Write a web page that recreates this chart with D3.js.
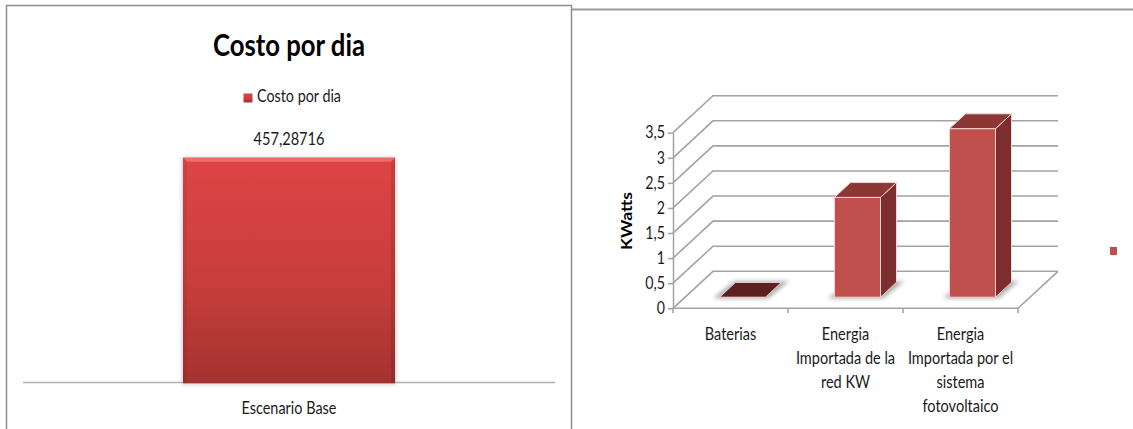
<!DOCTYPE html>
<html>
<head>
<meta charset="utf-8">
<script src="https://cdn.jsdelivr.net/npm/d3@7"></script>
<style>
  body { margin: 0; background: #fff; }
  svg { display: block; }
  text { font-family: Lato, "Open Sans", "DejaVu Sans", sans-serif; fill: #1a1a1a; }
</style>
</head>
<body>
<svg id="chart" width="1133" height="429"></svg>
<script>
// ---- Costo por dia ----
const costTitle = "Costo por dia";
const costSeriesName = "Costo por dia";
const costCategories = ["Escenario Base"];
const costValues = [457.28716];
const costValueLabels = ["457,28716"];

// ---- Energía (kW) ----
const energyAxisTitle = "KWatts";
const energyCategories = [
  ["Baterias"],
  ["Energia", "Importada de la", "red KW"],
  ["Energia", "Importada por el", "sistema", "fotovoltaico"]
];
const energyValues = [0, 1.99, 3.36];
const energyTicks = [0, 0.5, 1, 1.5, 2, 2.5, 3, 3.5];
const energyTickLabels = ["0", "0,5", "1", "1,5", "2", "2,5", "3", "3,5"];

const svg = d3.select("#chart");
const defs = svg.append("defs");

// narrow the glyphs a little, like a condensed UI face
function condense(sel, k) {
  sel.each(function () {
    const len = this.getComputedTextLength();
    d3.select(this).attr("textLength", (len * k).toFixed(1)).attr("lengthAdjust", "spacingAndGlyphs");
  });
}

const grad = defs.append("linearGradient").attr("id", "costGrad")
  .attr("x1", 0).attr("y1", 0).attr("x2", 0).attr("y2", 1);
grad.append("stop").attr("offset", "0%").attr("stop-color", "#dd4544");
grad.append("stop").attr("offset", "55%").attr("stop-color", "#c83e3c");
grad.append("stop").attr("offset", "100%").attr("stop-color", "#a43230");

defs.append("filter").attr("id", "soft").attr("x", "-20%").attr("y", "-50%")
  .attr("width", "140%").attr("height", "200%")
  .append("feGaussianBlur").attr("stdDeviation", 2.2);

// panel frames
svg.append("rect").attr("x", 6.5).attr("y", 5.5).attr("width", 565).attr("height", 440)
  .attr("fill", "none").attr("stroke", "#8e8e8e").attr("stroke-width", 1.5);
svg.append("line").attr("x1", 572).attr("x2", 1133).attr("y1", 9.5).attr("y2", 9.5)
  .attr("stroke", "#9c9c9c").attr("stroke-width", 2);

// ================= left chart =================
const left = svg.append("g");
const xc = d3.scaleBand().domain(costCategories).range([23, 555]).padding(0.43);
const yc = d3.scaleLinear().domain([0, 500]).range([382.5, 136.7]);

left.append("text").attr("x", 289).attr("y", 55.7).attr("text-anchor", "middle")
  .attr("font-size", 31).attr("font-weight", "bold").attr("textLength", 152)
  .attr("lengthAdjust", "spacingAndGlyphs").style("fill", "#000").text(costTitle);

left.append("rect").attr("x", 243.5).attr("y", 93.5).attr("width", 9).attr("height", 9)
  .attr("fill", "url(#costGrad)");
left.append("text").attr("x", 257).attr("y", 102.3).attr("font-size", 16.5)
  .attr("textLength", 84).attr("lengthAdjust", "spacingAndGlyphs").text(costSeriesName);

left.append("line").attr("x1", 23).attr("x2", 555).attr("y1", yc(0)).attr("y2", yc(0))
  .attr("stroke", "#b0b0b0").attr("stroke-width", 1.5);

costCategories.forEach((c, i) => {
  const x0 = xc(c), w = xc.bandwidth(), yt = yc(costValues[i]), yb = yc(0) + 0.8;
  left.append("rect").attr("x", x0 - 1).attr("y", yt).attr("width", w + 2).attr("height", yb - yt + 1)
    .attr("fill", "#9a9a9a").attr("opacity", 0.5).attr("filter", "url(#soft)");
  left.append("rect").attr("x", x0).attr("y", yt).attr("width", w).attr("height", yb - yt)
    .attr("fill", "url(#costGrad)");
  const b = 4;
  left.append("path").attr("d", `M${x0},${yt}L${x0 + w},${yt}L${x0 + w - b},${yt + b}L${x0 + b},${yt + b}Z`)
    .attr("fill", "#f06b69");
  left.append("path").attr("d", `M${x0},${yt}L${x0 + b},${yt + b}L${x0 + b},${yb}L${x0},${yb}Z`)
    .attr("fill", "#000").attr("opacity", 0.06);
  left.append("path").attr("d", `M${x0 + w},${yt}L${x0 + w - b},${yt + b}L${x0 + w - b},${yb}L${x0 + w},${yb}Z`)
    .attr("fill", "#000").attr("opacity", 0.1);
  left.append("text").attr("x", x0 + w / 2).attr("y", 145).attr("text-anchor", "middle")
    .attr("font-size", 16.5).attr("textLength", 71).attr("lengthAdjust", "spacingAndGlyphs")
    .text(costValueLabels[i]);
  left.append("text").attr("x", x0 + w / 2).attr("y", 414.3).attr("text-anchor", "middle")
    .attr("font-size", 16.5).attr("textLength", 95).attr("lengthAdjust", "spacingAndGlyphs").text(c);
});

// ================= right chart (3-D columns) =================
const right = svg.append("g");
const xe = d3.scaleBand().domain(d3.range(energyCategories.length)).range([673, 1018]);
const ye = d3.scaleLinear().domain([0, 3.5]).range([308.3, 132.7]);
const DX = 40, DY = 37;                  // depth offset of the back wall
const P = (px, v, z) => [px + z * DX, ye(v) - z * DY];
const pt = p => p[0].toFixed(2) + "," + p[1].toFixed(2);
const poly = pts => "M" + pts.map(pt).join("L") + "Z";
const x0e = xe.range()[0], x1e = xe.range()[1];
const gridColor = "#a3a3a3";

// walls: side + back grid lines
energyTicks.forEach(t => {
  right.append("path")
    .attr("d", "M" + [P(x0e, t, 0), P(x0e, t, 1), P(x1e, t, 1)].map(pt).join("L"))
    .attr("fill", "none").attr("stroke", gridColor).attr("stroke-width", 1.6);
});
// floor outline
right.append("path")
  .attr("d", "M" + [P(x0e, 0, 0), P(x1e, 0, 0), P(x1e, 0, 1)].map(pt).join("L"))
  .attr("fill", "none").attr("stroke", gridColor).attr("stroke-width", 1.6);

// category tick marks
[...xe.domain().map(d => xe(d)), x1e].forEach(x => {
  right.append("line").attr("x1", x).attr("x2", x).attr("y1", ye(0)).attr("y2", ye(0) + 5)
    .attr("stroke", gridColor).attr("stroke-width", 1.5);
});

// value axis
const yAxis = d3.axisLeft(ye).tickValues(energyTicks)
  .tickFormat((d, i) => energyTickLabels[i]).tickSize(5).tickSizeOuter(0).tickPadding(3);
const ya = right.append("g").attr("transform", `translate(${x0e},0)`).call(yAxis);
ya.select(".domain").attr("stroke", gridColor).attr("stroke-width", 1.5);
ya.selectAll(".tick line").attr("stroke", gridColor).attr("stroke-width", 1.5);
ya.selectAll(".tick text").attr("font-size", 16.5).attr("font-family", null).style("fill", "#1a1a1a");
condense(ya.selectAll(".tick text"), 0.86);

right.append("text").attr("transform", "translate(631.5,221) rotate(-90)")
  .attr("text-anchor", "middle").attr("font-size", 15).attr("font-weight", "bold")
  .attr("textLength", 58).attr("lengthAdjust", "spacingAndGlyphs")
  .style("fill", "#000").text(energyAxisTitle);

// columns
const z1 = 0.3, z2 = 0.7, half = 23;
energyValues.forEach((v, i) => {
  const cx = xe(i) + xe.bandwidth() / 2, a = cx - half, b = cx + half;
  // soft floor shadow
  right.append("path")
    .attr("d", poly([P(a - 5, 0, z1 - 0.03), P(b + 4, 0, z1 - 0.03), P(b + 6, 0, z2 + 0.03), P(a - 2, 0, z2 + 0.03)]))
    .attr("fill", "#8c8c8c").attr("opacity", 0.75).attr("filter", "url(#soft)");
  const faces = [
    { pts: [P(a, 0, z1), P(b, 0, z1), P(b, v, z1), P(a, v, z1)], fill: "#c0504d" },
    { pts: [P(b, 0, z1), P(b, 0, z2), P(b, v, z2), P(b, v, z1)], fill: "#7b2e2d" },
    { pts: [P(a, v, z1), P(b, v, z1), P(b, v, z2), P(a, v, z2)], fill: v === 0 ? "#5c2020" : "#8d3734" }
  ];
  faces.forEach(f => {
    right.append("path").attr("d", poly(f.pts)).attr("fill", f.fill)
      .attr("stroke", "#f3d4d3").attr("stroke-width", 1).attr("stroke-linejoin", "round");
  });
});

// category labels
energyCategories.forEach((lines, i) => {
  const t = right.append("text").attr("text-anchor", "middle").attr("font-size", 16.5);
  lines.forEach((ln, k) => {
    t.append("tspan").attr("x", xe(i) + xe.bandwidth() / 2).attr("y", 340 + 24 * k).text(ln);
  });
  condense(t.selectAll("tspan"), 0.88);
});

// legend key
right.append("rect").attr("x", 1110).attr("y", 247).attr("width", 7).attr("height", 8).attr("fill", "#c0504d");
</script>
</body>
</html>
